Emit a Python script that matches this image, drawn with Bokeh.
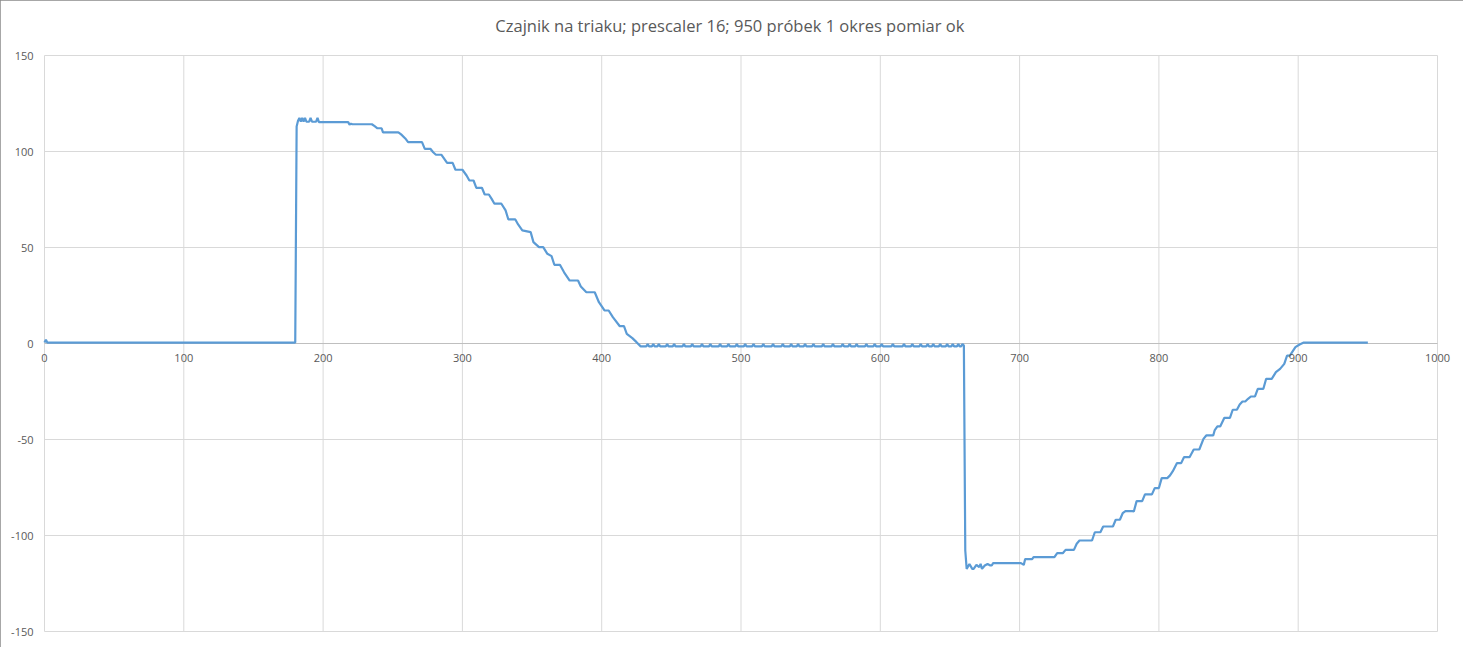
from bokeh.plotting import figure
from bokeh.models import Range1d, Label
from bokeh.embed import file_html
from bokeh.resources import INLINE

TITLE = "Czajnik na triaku; prescaler 16; 950 próbek  1 okres pomiar ok"
x_ticks = [0, 100, 200, 300, 400, 500, 600, 700, 800, 900, 1000]
y_ticks = [-150, -100, -50, 0, 50, 100, 150]

# idle start, positive half-wave (sample index, reading)
pos_x = [0, 1, 2, 180, 181, 182, 183, 184, 185, 186, 187, 188, 190, 191, 192, 195, 196, 197,
         218, 219, 220, 221, 235, 237, 239, 242, 243, 254, 256, 259, 261, 271, 273, 277, 279,
         281, 285, 287, 289, 293, 295, 300, 303, 305, 308, 310, 314, 316, 319, 321, 323, 328,
         331, 333, 338, 340, 343, 349, 351, 355, 358, 361, 364, 366, 370, 373, 377, 383, 385,
         389, 395, 398, 402, 405, 408, 413, 416, 418, 422, 425, 428]
pos_y = [0.5, 2, 0.5, 0.5, 113, 116, 117.5, 115.5, 117.5, 115.5, 117.5, 115.5, 115.5, 117.5,
         115.5, 115.5, 117.5, 115.3, 115.3, 114, 114.5, 114.2, 114.2, 113.2, 112.1, 112.1, 110,
         110, 108.9, 106.8, 104.9, 104.9, 101.4, 101.4, 99.6, 98.3, 98.3, 96.2, 94.1, 94.1, 90.5,
         90.5, 87.5, 84.9, 84.9, 81.1, 81.1, 77.6, 77.6, 75.3, 72.8, 72.8, 69.3, 64.6, 64.6, 62,
         58.9, 58, 52.8, 50.2, 50.2, 46.7, 45.5, 41, 41, 37.1, 32.8, 32.8, 29.7, 26.7, 26.7,
         21.5, 17.2, 17.2, 13.7, 9, 9, 5, 2.8, 0.7, -1.5]

# zero-crossing noise: low level and the samples where it ticks up
noise_start, noise_end = 429, 659
noise_low, noise_high = -1.5, -0.3
noise_up = [433, 437, 441, 447, 452, 459, 465, 472, 478, 485, 491, 497, 503, 509, 516, 523,
            530, 536, 541, 546, 552, 559, 566, 573, 578, 583, 590, 596, 601, 609, 617, 623,
            629, 634, 638, 643, 648, 652, 656, 659]

# negative half-wave and idle end
neg_x = [660, 661, 662, 664, 666, 667, 669, 671, 672, 673, 675, 677, 679, 680, 681, 701, 703,
         704, 709, 710, 725, 727, 731, 733, 739, 741, 743, 752, 754, 758, 760, 767, 769, 772,
         774, 776, 781, 782, 784, 788, 790, 795, 797, 800, 802, 806, 808, 810, 813, 816, 818,
         822, 825, 829, 832, 834, 839, 840, 842, 844, 847, 851, 853, 856, 858, 860, 862, 864,
         866, 869, 871, 875, 877, 881, 884, 887, 890, 892, 894, 898, 901, 904, 950]
neg_y = [-1.0, -107.8, -117.4, -114.8, -117.4, -117.4, -115.3, -116.5, -114.8, -117.4, -115.6,
         -114.8, -115.6, -115.6, -114.4, -114.4, -115.3, -112.3, -112.3, -111.3, -111.3, -109.2,
         -109.2, -107.5, -107.5, -104.3, -102.6, -102.6, -98.3, -98.3, -95.3, -95.3, -91.8,
         -91.8, -88.4, -87.3, -87.3, -87.5, -82.1, -82.1, -78.6, -78.6, -75.3, -75.3, -70.1,
         -70.1, -68.7, -66.5, -62.3, -62.3, -59.2, -59.2, -55.2, -55.2, -49.7, -47.9, -47.9,
         -45.3, -43.2, -43.2, -38.7, -38.7, -34.5, -34.5, -31.8, -30.2, -30.2, -28.8, -27.6,
         -27.6, -23.6, -23.6, -18.4, -18.4, -14.9, -13.2, -10.6, -6.3, -6.3, -1.9, -0.5, 0.5,
         0.5]

noise_x = list(range(noise_start, noise_end + 1))
noise_y = [noise_high if i in noise_up else noise_low for i in noise_x]

xs = pos_x + noise_x + neg_x
ys = pos_y + noise_y + neg_y

FONT = "Open Sans"
TXT = "#595959"
GRID = "#d9d9d9"

# layout (pixels): plot area 1393x576, frame padded so tick labels are not clipped
PLOT_W, PLOT_H = 1393, 576
PAD_L, PAD_R, PAD_T, PAD_B = 40, 22, 8, 8
X0, X1 = x_ticks[0], x_ticks[-1]
Y0, Y1 = y_ticks[0], y_ticks[-1]
ux = PLOT_W / (X1 - X0)
uy = PLOT_H / (Y1 - Y0)

p = figure(frame_width=PLOT_W + PAD_L + PAD_R, frame_height=PLOT_H + PAD_T + PAD_B,
           x_range=Range1d(X0 - PAD_L / ux, X1 + PAD_R / ux),
           y_range=Range1d(Y0 - PAD_B / uy, Y1 + PAD_T / uy),
           output_backend="svg", toolbar_location=None,
           min_border_left=4, min_border_right=4, min_border_top=47, min_border_bottom=8,
           background_fill_color="white", border_fill_color="white")
p.styles = {"outline": "1px solid #8a8a8a", "outline-offset": "-1px"}
p.outline_line_color = None
p.xaxis.visible = False
p.yaxis.visible = False
p.xgrid.visible = False
p.ygrid.visible = False

p.title.text = TITLE
p.title.align = "center"
p.title.text_font = FONT
p.title.text_font_size = "16.5px"
p.title.text_font_style = "normal"
p.title.text_color = TXT
p.title.standoff = 21
p.title.offset = 3

# gridlines
p.segment(x0=x_ticks, x1=x_ticks, y0=Y0, y1=Y1, line_color=GRID, line_width=1)
p.segment(x0=X0, x1=X1, y0=y_ticks, y1=y_ticks, line_color=GRID, line_width=1)
# horizontal (category) axis line at zero
p.segment(x0=[X0], x1=[X1], y0=[0], y1=[0], line_color="#bfbfbf", line_width=1)

p.line(xs, ys, line_color="#5b9bd5", line_width=2.2)

for t in x_ticks:
    p.add_layout(Label(x=t, y=0, text=str(t), y_offset=-14, text_align="center",
                       text_baseline="middle", text_font=FONT, text_font_size="11px",
                       text_color=TXT))
for t in y_ticks:
    p.add_layout(Label(x=X0, y=t, text=str(t), x_offset=-11, text_align="right",
                       text_baseline="middle", text_font=FONT, text_font_size="11px",
                       text_color=TXT))

open("out.html", "w").write(file_html(p, INLINE))
